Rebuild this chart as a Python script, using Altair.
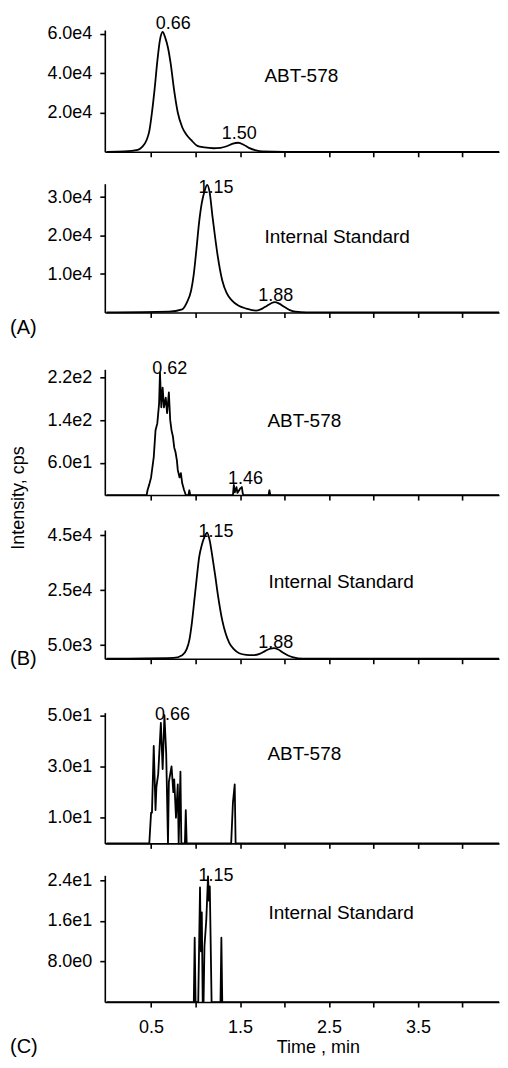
import altair as alt
import pandas as pd

FONT = "Liberation Sans"

# ---------------- data ----------------
# (A) ABT-578
a1_t = [0.00, 0.20, 0.35, 0.40, 0.45, 0.48, 0.51, 0.54, 0.57, 0.60, 0.63, 0.66, 0.69, 0.72, 0.76, 0.80,
        0.85, 0.90, 0.95, 1.02, 1.10, 1.20, 1.28, 1.35, 1.42, 1.48, 1.54, 1.60, 1.68, 1.75, 2.00, 3.00, 4.41]
a1_i = [0, 200, 1000, 2500, 6000, 10500, 20000, 32000, 46000, 57000, 61000, 58000, 53000, 45000, 31000, 20000,
        12500, 8500, 6000, 3000, 2200, 1800, 2000, 2800, 4200, 4600, 3600, 2000, 700, 200, 0, 0, 0]
# (A) Internal Standard
a2_t = [0.00, 0.70, 0.85, 0.90, 0.95, 0.98, 1.01, 1.04, 1.07, 1.10, 1.13, 1.16, 1.19, 1.22, 1.25, 1.30,
        1.35, 1.41, 1.48, 1.57, 1.68, 1.75, 1.80, 1.85, 1.89, 1.94, 2.00, 2.06, 2.12, 2.25, 4.41]
a2_i = [0, 200, 800, 2500, 5700, 10000, 16500, 23500, 28500, 31500, 33200, 31000, 25000, 19500, 14500, 8300,
        5000, 3100, 1800, 1000, 500, 1000, 1700, 2400, 2700, 2300, 1400, 600, 200, 0, 0]
# (B) ABT-578
b1_t = [0.00, 0.45, 0.46, 0.48, 0.50, 0.53, 0.55, 0.57, 0.59, 0.60, 0.615, 0.63, 0.645, 0.665, 0.68, 0.70,
        0.715, 0.73, 0.745, 0.76, 0.775, 0.79, 0.80, 0.82, 0.835, 0.85, 0.87, 0.89, 0.92, 0.93, 0.94,
        1.40, 1.42, 1.43, 1.44, 1.46, 1.47, 1.50, 1.52, 1.53, 1.54, 1.56, 1.82, 1.83, 1.84, 4.41]
b1_i = [0, 0, 9, 20, 33, 71, 121, 134, 171, 229, 164, 201, 164, 182, 153, 192,
        140, 121, 110, 89, 80, 65, 47, 33, 41, 22, 10, 0, 0, 9, 0,
        0, 0, 19, 5, 15, 4, 12, 15, 3, 0, 0, 0, 9, 0, 0]
# (B) Internal Standard
b2_t = [0.00, 0.75, 0.85, 0.90, 0.93, 0.96, 0.99, 1.02, 1.04, 1.07, 1.10, 1.13, 1.16, 1.19, 1.22, 1.25,
        1.30, 1.34, 1.38, 1.43, 1.49, 1.57, 1.64, 1.72, 1.78, 1.84, 1.88, 1.93, 1.98, 2.04, 2.10, 2.20, 4.41]
b2_i = [0, 300, 1300, 3500, 6800, 13500, 22500, 31500, 37000, 41500, 44500, 46000, 43000, 37000, 30500, 23500,
        14000, 9000, 5700, 3500, 2000, 1400, 1300, 1800, 2800, 3700, 3900, 3400, 2300, 1200, 500, 0, 0]
# (C) ABT-578
c1_t = [0.00, 0.48, 0.50, 0.51, 0.53, 0.55, 0.56, 0.58, 0.61, 0.63, 0.65, 0.67, 0.69, 0.70, 0.73, 0.75,
        0.76, 0.78, 0.80, 0.81, 0.83, 0.84, 0.88, 0.89, 0.90, 1.39, 1.40, 1.42, 1.44, 1.45, 4.41]
c1_i = [0, 0, 12, 12, 38, 13, 22, 27, 47, 29, 50, 35, 0, 24, 30, 20,
        25, 10, 23, 0, 28, 0, 0, 13, 0, 0, 0, 16, 23, 0, 0]
# (C) Internal Standard
c2_t = [0.00, 0.98, 0.99, 1.00, 1.03, 1.05, 1.06, 1.07, 1.08, 1.09, 1.10, 1.12, 1.14, 1.15, 1.16, 1.18,
        1.27, 1.28, 1.29, 1.30, 4.41]
c2_i = [0, 0, 12.7, 0, 0, 22.6, 10, 17.7, 0, 0, 11, 16, 24.8, 20, 22.8, 0,
        0, 0, 12.7, 0, 0]

# peak labels: text, time, intensity
a1_lab = (["0.66", "1.50"], [0.75, 1.49], [62500, 6600])
a2_lab = (["1.15", "1.88"], [1.23, 1.90], [31200, 3100])
b1_lab = (["0.62", "1.46"], [0.71, 1.56], [227, 20])
b2_lab = (["1.15", "1.88"], [1.23, 1.90], [44400, 4000])
c1_lab = (["0.66"], [0.74], [48.3])
c2_lab = (["1.15"], [1.23], [23.8])

# y-axis scale maxima and tick values
y_max = [62000, 33500, 235, 47000, 51, 25]
y_ticks = [[20000, 40000, 60000], [10000, 20000, 30000], [60, 140, 220],
           [5000, 25000, 45000], [10, 30, 50], [8, 16, 24]]
x_ticks = [0.5, 1.0, 1.5, 2.0, 2.5, 3.0, 3.5, 4.0]
names = ["ABT-578", "Internal Standard"] * 3
letters = ["(A)", "(B)", "(C)"]
x_title = "Time , min"
y_title = "Intensity, cps"

W = 395
heights = [122, 129, 126, 129, 131, 127]
gaps = [32, 57, 35, 54, 32]
name_pos = [(160, 52), (160, 59), (163, 58), (164, 58), (163, 47), (164, 44)]
letter_y = [151, 135, 178]  # alphabetic baselines relative to panel top


def txt(s, x, y, size, align="left", baseline="alphabetic", angle=0):
    return alt.Chart(pd.DataFrame({"s": [s]})).mark_text(
        fontSize=size, font=FONT, color="black", align=align, baseline=baseline, angle=angle
    ).encode(x=alt.value(x), y=alt.value(y), text="s:N")


def panel(k, t, inten, lab, interp, last=False, letter=None, ytitle=False):
    df = pd.DataFrame({"t": t, "i": inten})
    xaxis = alt.Axis(values=x_ticks, labels=last, title=None,
                     labelExpr="(datum.value * 2) % 2 == 1 ? format(datum.value, '.1f') : ''",
                     labelPadding=12)
    x = alt.X("t:Q", scale=alt.Scale(domain=[-0.02, 4.41], nice=False, zero=False), axis=xaxis)
    y = alt.Y("i:Q", scale=alt.Scale(domain=[0, y_max[k]], nice=False),
              axis=alt.Axis(values=y_ticks[k], title=None, labelPadding=8,
                            labelExpr="replace(format(datum.value, '.1e'), '+', '')"))
    line = alt.Chart(df).mark_line(color="black", strokeWidth=1.8, interpolate=interp,
                                   strokeJoin="round").encode(x=x, y=y)
    ldf = pd.DataFrame({"s": lab[0], "t": lab[1], "i": lab[2]})
    labels = alt.Chart(ldf).mark_text(fontSize=18, font=FONT, color="black", baseline="alphabetic",
                                      align="center").encode(x="t:Q", y="i:Q", text="s:N")
    nx, ny = name_pos[k]
    layers = [line, labels, txt(names[k], nx, ny, 19)]
    if letter is not None:
        layers.append(txt(letters[letter], -95, letter_y[letter], 20))
    if ytitle:
        layers.append(txt(y_title, -86, 129, 18, align="center", baseline="middle", angle=270))
    if last:
        layers.append(txt(x_title, 214, 178, 18, align="center"))
    return alt.layer(*layers).properties(width=W, height=heights[k])


def spacer(h):
    return alt.Chart(pd.DataFrame({"a": [0]})).mark_point(opacity=0).encode(
        x=alt.value(0), y=alt.value(0)
    ).properties(width=W, height=h)


panels = [
    panel(0, a1_t, a1_i, a1_lab, "monotone"),
    panel(1, a2_t, a2_i, a2_lab, "monotone", letter=0),
    panel(2, b1_t, b1_i, b1_lab, "linear", ytitle=True),
    panel(3, b2_t, b2_i, b2_lab, "monotone", letter=1),
    panel(4, c1_t, c1_i, c1_lab, "linear"),
    panel(5, c2_t, c2_i, c2_lab, "linear", last=True, letter=2),
]

items = []
for k, p in enumerate(panels):
    items.append(p)
    if k < len(gaps):
        items.append(spacer(gaps[k]))

chart = alt.vconcat(*items, spacing=0, bounds="flush").properties(
    padding={"left": 2, "top": 6, "right": 0, "bottom": 0}
).configure_view(stroke=None).configure_axis(
    domainColor="black", domainWidth=1.6, tickColor="black", tickWidth=1.6, tickSize=5,
    labelFont=FONT, labelFontSize=18, labelColor="black", grid=False,
    titleFont=FONT, titleFontSize=18, titleFontWeight="normal", titleColor="black"
)

chart.save("out.html", embed_options={"renderer": "svg", "actions": False})
